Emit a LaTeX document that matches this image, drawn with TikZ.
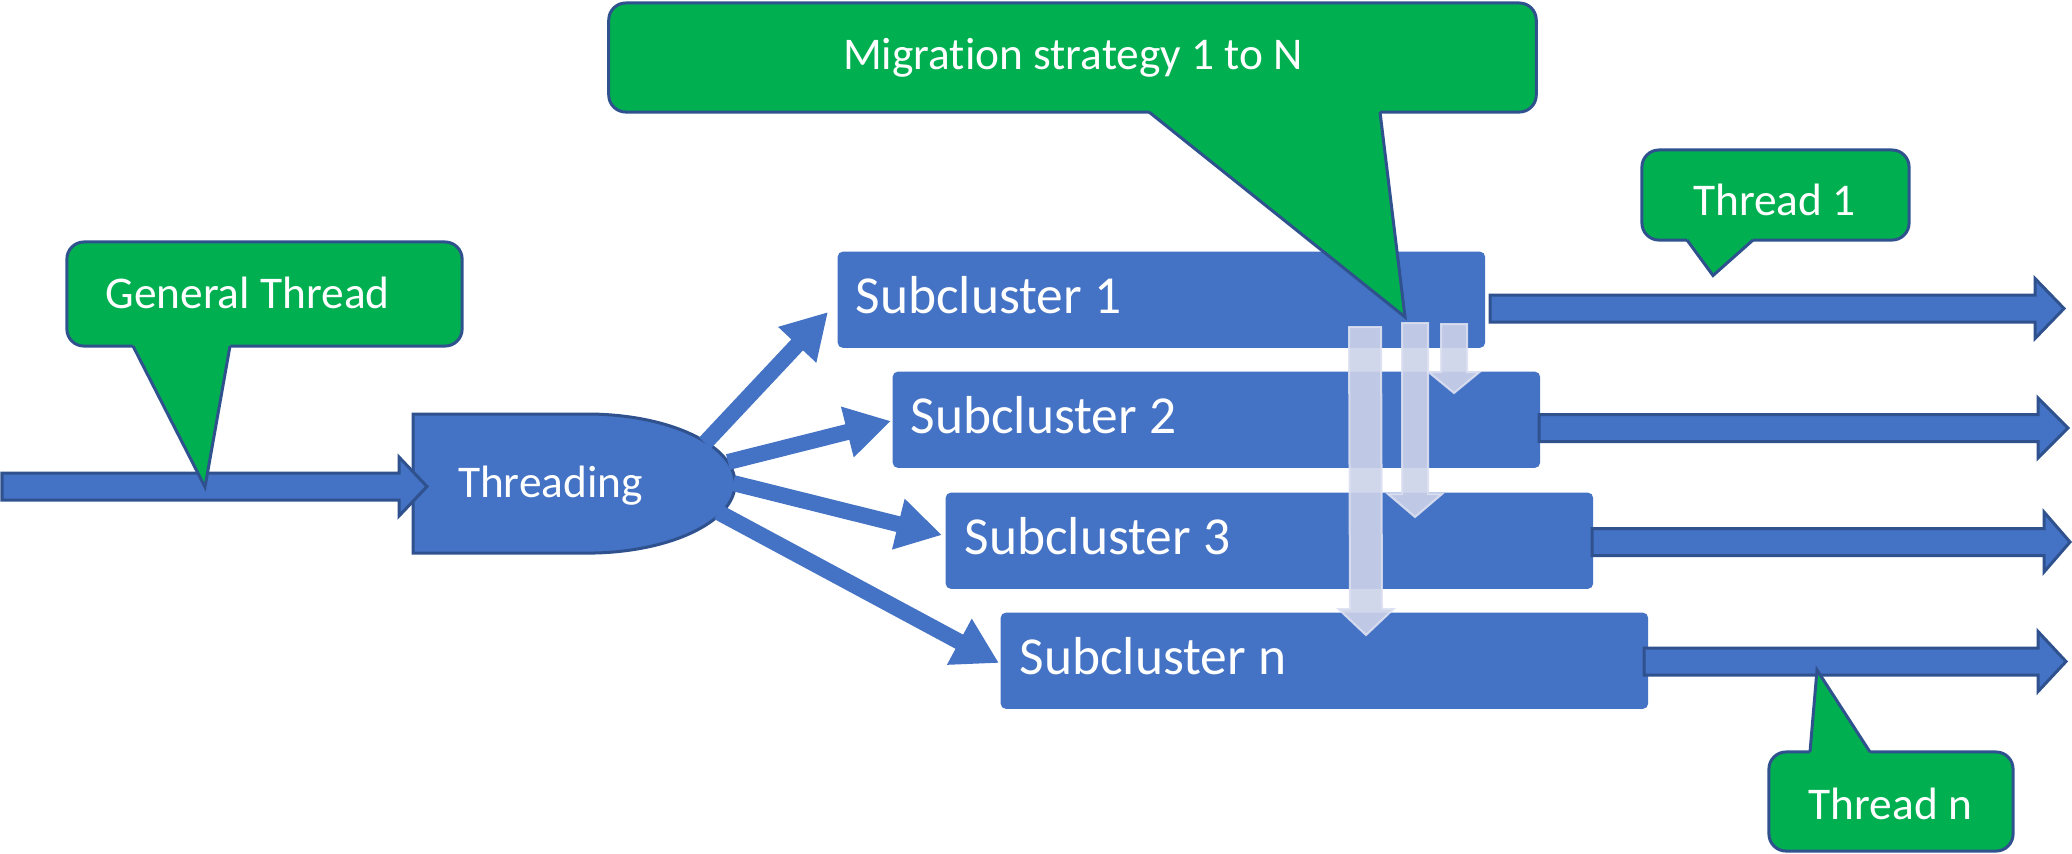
\documentclass[tikz,border=0pt]{standalone}
\usepackage{fontspec}
\setmainfont{Carlito}[Ligatures=NoCommon]
\usetikzlibrary{arrows.meta,calc}
\definecolor{boxblue}{HTML}{4472C4}
\definecolor{edgeblue}{HTML}{2F528F}
\definecolor{callgreen}{HTML}{00B050}
\definecolor{migfill}{RGB}{205,211,233}
\definecolor{migedge}{RGB}{220,224,241}
% horizontal block arrow: #1 style, #2 start, #3 tip, #4 body half, #5 head half, #6 head length
\newcommand{\hblock}[6]{\path[#1] ($(#2)+(0,-#4)$) -- ($(#3)+(-#6,-#4)$) -- ($(#3)+(-#6,-#5)$) -- (#3) -- ($(#3)+(-#6,#5)$) -- ($(#3)+(-#6,#4)$) -- ($(#2)+(0,#4)$) -- cycle;}
% vertical (downward) block arrow
\newcommand{\vblock}[6]{\path[#1] ($(#2)+(-#4,0)$) -- ($(#3)+(-#4,-#6)$) -- ($(#3)+(-#5,-#6)$) -- (#3) -- ($(#3)+(#5,-#6)$) -- ($(#3)+(#4,-#6)$) -- ($(#2)+(#4,0)$) -- cycle;}
% callout pointer: #1 base a, #2 tip, #3 base b, #4 inward y offset
\newcommand{\calloutptr}[4]{\fill[callgreen] (#1) -- (#2) -- (#3) -- ($(#3)+(0,#4)$) -- ($(#1)+(0,#4)$) -- cycle;
 \draw[calledge] (#1) -- (#2) -- (#3);}
\tikzset{
 calloutbox/.style={draw=edgeblue, line width=0.03cm, fill=callgreen, rounded corners=0.17cm, inner sep=0pt},
 calledge/.style={draw=edgeblue, line width=0.03cm, line join=miter},
 calltext/.style={text=white, font=\fontsize{12.9}{15}\selectfont, inner sep=0pt, anchor=base},
 subbox/.style={fill=boxblue, rounded corners=0.05cm, inner sep=0pt, minimum width=6.47cm, minimum height=0.96cm, anchor=north west},
 subtext/.style={text=white, font=\fontsize{15.2}{18}\selectfont, inner sep=0pt, anchor=base west},
 threadarrow/.style={fill=boxblue, draw=edgeblue, line width=0.03cm, line join=miter},
 threadshape/.style={fill=boxblue, draw=edgeblue, line width=0.03cm},
 fanarrow/.style={draw=boxblue, line width=0.16cm, -{Triangle[length=0.45cm,width=0.49cm]}},
 migarrow/.style={fill=migfill, fill opacity=0.9, draw=migedge, draw opacity=0.9, line width=0.02cm},
}
\begin{document}
\begin{tikzpicture}[x=0.01cm,y=-0.01cm]
\fill[white] (0,0) rectangle (2072,853);
\useasboundingbox (0,0) rectangle (2072,853);

% Threading shape
\draw[threadshape] (413,414) -- (587,414) arc[start angle=90,end angle=-90,x radius=1.48cm,y radius=0.695cm] -- (413,553) -- cycle;
\node[calltext] (thr) at (550.5,497) {Threading};

% general thread arrow
\coordinate (gs) at (2,486.5);
\coordinate (gtip) at (427,486.5);
\hblock{threadarrow}{gs}{gtip}{13.5}{29.5}{28}

% General Thread callout
\node[calloutbox, minimum width=3.95cm, minimum height=1.04cm] (gtbox) at (264.5,294) {};
\coordinate (gtpa) at (133,346);
\coordinate (gtpb) at (230,346);
\coordinate (gtptip) at (205,487);
\calloutptr{gtpa}{gtptip}{gtpb}{-4}
\node[calltext] (gtlabel) at (247.5,308) {General Thread};

% subclusters
\node[subbox] (s1) at (837,251) {};
\node[subbox] (s2) at (892,371) {};
\node[subbox] (s3) at (945,492) {};
\node[subbox] (s4) at (1000,612) {};
\node[subtext] (s1t) at (855,313) {Subcluster 1};
\node[subtext] (s2t) at (910,433) {Subcluster 2};
\node[subtext] (s3t) at (964,554) {Subcluster 3};
\node[subtext] (s4t) at (1019,674) {Subcluster n};

% fan arrows from Threading
\coordinate (o1) at (705,443);
\coordinate (o2) at (728,462);
\coordinate (o3) at (733,483);
\coordinate (o4) at (718,512);
\coordinate (t1) at (828,312);
\coordinate (t2) at (891,421);
\coordinate (t3) at (942,535);
\coordinate (t4) at (999,663);
\draw[fanarrow] (o1) -- (t1);
\draw[fanarrow] (o2) -- (t2);
\draw[fanarrow] (o3) -- (t3);
\draw[fanarrow] (o4) -- (t4);

% thread arrows
\coordinate (a1s) at (1490,308.5);
\coordinate (a1t) at (2064,308.5);
\coordinate (a2s) at (1539,428);
\coordinate (a2t) at (2068,428);
\coordinate (a3s) at (1592,542);
\coordinate (a3t) at (2070,542);
\coordinate (a4s) at (1644,661.5);
\coordinate (a4t) at (2066,661.5);
\hblock{threadarrow}{a1s}{a1t}{13.5}{30}{29}
\hblock{threadarrow}{a2s}{a2t}{13.5}{30}{30}
\hblock{threadarrow}{a3s}{a3t}{13.5}{30}{26}
\hblock{threadarrow}{a4s}{a4t}{13.5}{30}{28}

% migration arrows
\coordinate (ma) at (1365,327);
\coordinate (mat) at (1366,635);
\coordinate (mb) at (1415,323);
\coordinate (mbt) at (1415,517);
\coordinate (mc) at (1454,324);
\coordinate (mct) at (1454,393);
\vblock{migarrow}{ma}{mat}{16}{27.5}{26}
\vblock{migarrow}{mb}{mbt}{13}{27}{23}
\vblock{migarrow}{mc}{mct}{13}{25.5}{21}

% Migration callout
\node[calloutbox, minimum width=9.27cm, minimum height=1.09cm] (mig) at (1072.5,57.5) {};
\coordinate (mpa) at (1149,112);
\coordinate (mpb) at (1380,112);
\coordinate (mptip) at (1405,317);
\calloutptr{mpa}{mptip}{mpb}{-4}
\node[calltext] (miglabel) at (1073,69) {Migration strategy 1 to N};

% Thread 1 callout
\node[calloutbox, minimum width=2.67cm, minimum height=0.90cm] (th1) at (1775.5,195) {};
\coordinate (t1pa) at (1687,240);
\coordinate (t1pb) at (1753,240);
\coordinate (t1ptip) at (1713,275.5);
\calloutptr{t1pa}{t1ptip}{t1pb}{-4}
\node[calltext] (th1label) at (1774.5,215) {Thread 1};

% Thread n callout
\node[calloutbox, minimum width=2.44cm, minimum height=0.99cm] (thn) at (1891,801.5) {};
\coordinate (tnpa) at (1810,752);
\coordinate (tnpb) at (1870,752);
\coordinate (tnptip) at (1817,670);
\calloutptr{tnpa}{tnptip}{tnpb}{4}
\node[calltext] (thnlabel) at (1890.5,819) {Thread n};
\end{tikzpicture}
\end{document}
